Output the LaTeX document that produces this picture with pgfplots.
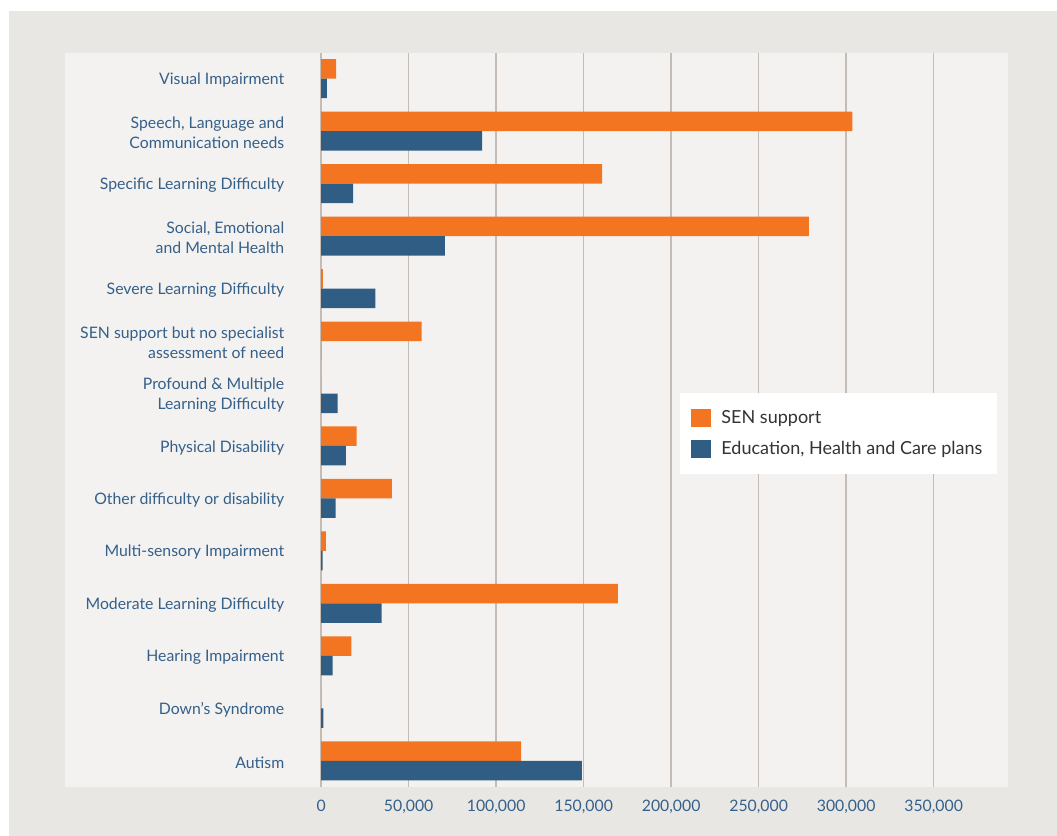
\documentclass[border=0pt]{standalone}
\usepackage{pgfplots}
\pgfplotsset{compat=1.18}
\usepackage{fontspec}
\setmainfont{Lato}
\definecolor{senorange}{HTML}{F47521}
\definecolor{ehcblue}{HTML}{2F5D84}
\definecolor{labelblue}{HTML}{34608A}
\definecolor{gridc}{HTML}{C4BCB5}
\definecolor{outerbg}{HTML}{E9E7E4}
\definecolor{panelbg}{HTML}{F3F2F0}
\definecolor{legtext}{HTML}{333333}
\begin{document}
\begin{tikzpicture}
\fill[white] (0pt,0pt) rectangle (528.5pt,-418pt);
\fill[outerbg] (4.5pt,-5.5pt) rectangle (528.5pt,-418pt);
\fill[panelbg] (32.5pt,-26.25pt) rectangle (503.85pt,-393.5pt);
\begin{axis}[
  at={(160.6pt,-393.5pt)}, anchor=south west,
  scale only axis, width=343.25pt, height=367.25pt,
  xmin=0, xmax=392300, ymin=-0.5, ymax=13.5, y dir=reverse,
  axis line style={draw=none},
  xbar, bar width=9.75pt,
  scaled x ticks=false,
  xtick={0,50000,100000,150000,200000,250000,300000,350000},
  xticklabels={0,{50,000},{100,000},{150,000},{200,000},{250,000},{300,000},{350,000}},
  ytick={0,1,2,3,4,5,6,7,8,9,10,11,12,13},
  yticklabels={{Visual Impairment},{Speech, Language and\\Communication needs},{Specific Learning Difficulty},{Social, Emotional\\and Mental Health},{Severe Learning Difficulty},{SEN support but no specialist\\assessment of need},{Profound \& Multiple\\Learning Difficulty},{Physical Disability},{Other difficulty or disability},{Multi-sensory Impairment},{Moderate Learning Difficulty},{Hearing Impairment},{Down’s Syndrome},{Autism}},
  xmajorgrids, major grid style={draw=gridc, line width=0.75pt},
  tick style={draw=none},
  xticklabel style={font=\fontsize{7.9}{9}\selectfont, text=labelblue, anchor=base, yshift=-12pt},
  yticklabel style={font=\fontsize{7.9}{10}\selectfont, text=labelblue, anchor=east, align=right, inner sep=0pt, xshift=-14pt, yshift=-0.8pt},
  legend style={at={(0.5227,0.5368)}, anchor=north west, fill=white, draw=none,
    font=\fontsize{9}{10}\selectfont, text=legtext, inner xsep=5.5pt, inner ysep=6.5pt, row sep=3.3pt,
    /tikz/every odd column/.append style={column sep=3pt}},
  legend cell align=left,
]
\addplot[fill=senorange, draw=none, bar shift=4.875pt,
  legend image code/.code={\fill[senorange] (0pt,-4.5pt) rectangle (10pt,4.5pt);}]
  coordinates {(8600,0) (303500,1) (160500,2) (278700,3) (1000,4) (57400,5) (0,6) (20200,7) (40400,8) (2700,9) (169600,10) (17200,11) (0,12) (114300,13)};
\addlegendentry{SEN support}
\addplot[fill=ehcblue, draw=none, bar shift=-4.875pt,
  legend image code/.code={\fill[ehcblue] (0pt,-4.5pt) rectangle (10pt,4.5pt);}]
  coordinates {(3300,0) (91900,1) (18300,2) (70700,3) (30900,4) (0,5) (9400,6) (14100,7) (8200,8) (800,9) (34500,10) (6500,11) (1200,12) (148900,13)};
\addlegendentry{Education, Health and Care plans}
\end{axis}
\end{tikzpicture}
\end{document}
